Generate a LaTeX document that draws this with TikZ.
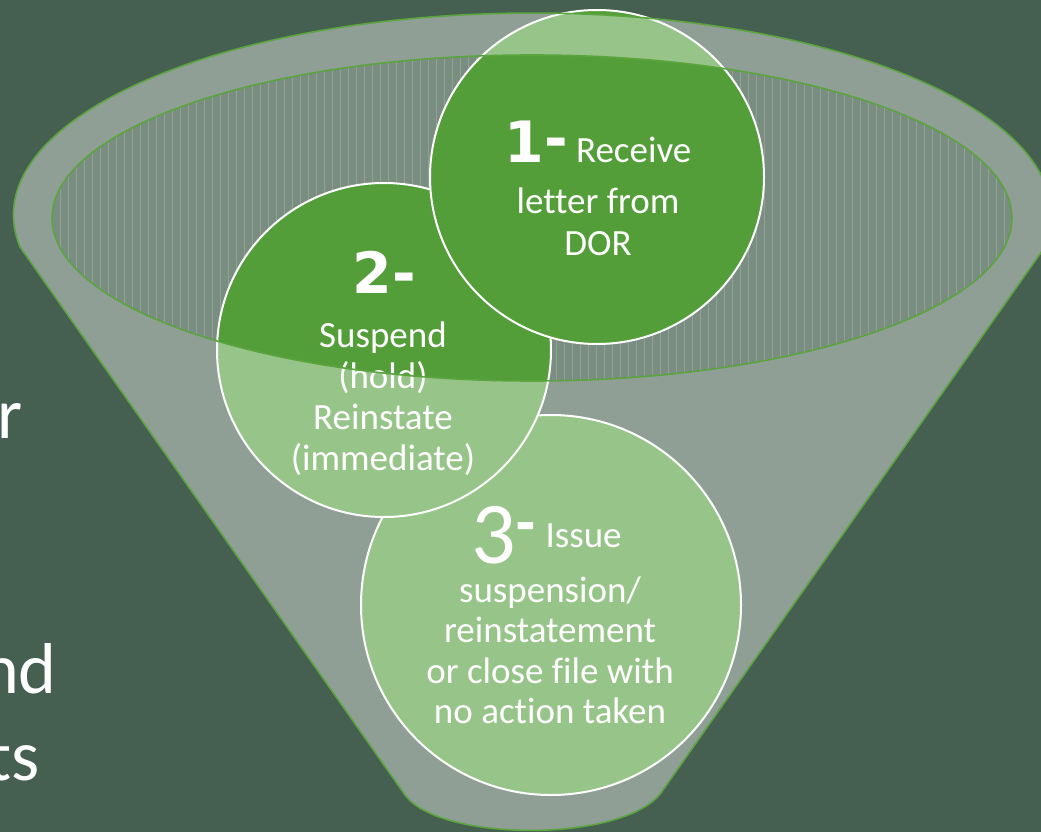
\documentclass[tikz,border=0pt]{standalone}
\usepackage{fontspec}
\setmainfont{Carlito}[Ligatures=NoCommon]
\newfontfamily\djv{DejaVu Sans}
\definecolor{bg}{RGB}{69,96,80}
\definecolor{cgreen}{RGB}{83,158,57}
\definecolor{fgreen}{RGB}{92,164,64}
\definecolor{innerfill}{RGB}{121,141,128}
\tikzset{
  txt/.style={text=white, inner sep=0pt, font=\fontsize{37}{41}\selectfont, anchor=base},
  num/.style={text=white, inner sep=0pt, font=\djv\bfseries\fontsize{57}{60}\selectfont, anchor=base},
  side/.style={text=white, inner sep=0pt, font=\fontsize{72}{86}\selectfont, anchor=base east},
  bubble/.style={circle, fill=cgreen, draw=white, line width=2pt, inner sep=0pt},
  funnelline/.style={draw=fgreen, line width=1.6pt},
}
\def\funnelpath{(20,247) arc[start angle=170.9, end angle=369.1, x radius=519, y radius=202] -- (663,790) .. controls (630,843) and (440,843) .. (405,795) -- cycle}
\begin{document}
\begin{tikzpicture}[x=1pt,y=-1pt]
\useasboundingbox (0,0) rectangle (1041,832);
\fill[bg] (0,0) rectangle (1041,832);
% left partial text
\node[side] (l1) at (23,438) {r};
\node[side] (l2) at (57,693) {nd};
\node[side] (l3) at (40,780) {ts};
% inner opening of the funnel
\fill[innerfill] (532,218) ellipse [x radius=480, y radius=163];
\begin{scope}
  \clip (532,218) ellipse [x radius=480, y radius=163];
  \foreach \xx in {52,60,...,1012} {
    \draw[white, opacity=0.18, line width=0.8pt] (\xx,50) -- (\xx,385);
  }
\end{scope}
% circles
\node[bubble, minimum size=380pt] (c3) at (551,605) {};
\node[bubble, minimum size=334pt] (c2) at (384,350) {};
\node[bubble, minimum size=334pt] (c1) at (597,177) {};
% circle 1 text
\node[txt] (t1a) at (598,162) {{\djv\bfseries\fontsize{57}{60}\selectfont 1\raisebox{4pt}{-}}\hspace{8pt}Receive};
\node[txt] (t1b) at (598,213) {letter from};
\node[txt] (t1c) at (598,255) {DOR};
% circle 2 text
\node[num] (t2a) at (384,293) {2-};
\node[txt] (t2b) at (383,347) {Suspend};
\node[txt] (t2c) at (383,388) {(hold)};
\node[txt] (t2d) at (383,429) {Reinstate};
\node[txt] (t2e) at (383,470) {(immediate)};
% circle 3 text
\node[txt, anchor=base west] (t3a) at (471,563) {{\fontsize{88}{90}\selectfont 3}\raisebox{23pt}{\djv\bfseries\fontsize{50}{50}\selectfont -}\hspace{9pt}\raisebox{16pt}{Issue}};
\node[txt] (t3b) at (550,602) {suspension/};
\node[txt] (t3c) at (550,642) {reinstatement};
\node[txt] (t3d) at (550,683) {or close file with};
\node[txt] (t3e) at (550,723) {no action taken};
% funnel body overlay
\fill[white, opacity=0.4, even odd rule] \funnelpath (532,218) ellipse [x radius=480, y radius=163];
% outlines
\draw[funnelline] \funnelpath;
\draw[funnelline] (532,218) ellipse [x radius=480, y radius=163];
\end{tikzpicture}
\end{document}
